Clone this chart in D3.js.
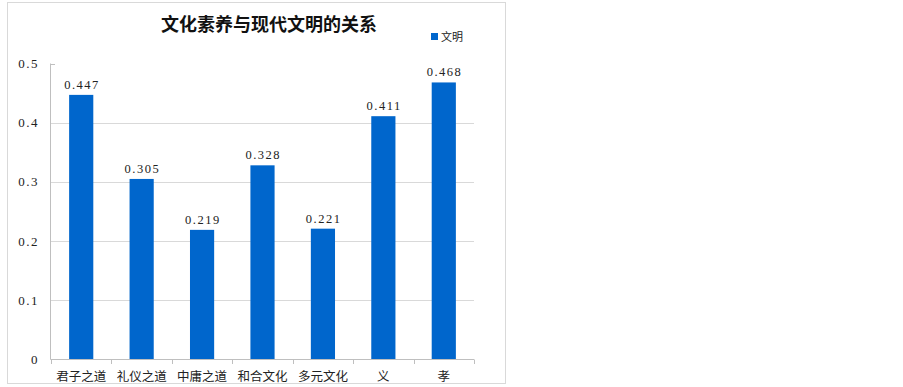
<!DOCTYPE html>
<html><head><meta charset="utf-8">
<script src="https://cdn.jsdelivr.net/npm/d3@7"></script>
<style>
body{margin:0;background:#fff;}
svg{display:block;}
</style></head>
<body>
<svg id="c" width="903" height="387"></svg>
<script>
const categories = ["君子之道","礼仪之道","中庸之道","和合文化","多元文化","义","孝"];
const values = [0.447,0.305,0.219,0.328,0.221,0.411,0.468];
const yTicks = [0,0.1,0.2,0.3,0.4,0.5];
const seriesName = "文明";
const title = "文化素养与现代文明的关系";

const svg = d3.select("#c");
const cjk = "'Noto Sans CJK SC','Noto Sans',sans-serif";
const num = "'Liberation Serif','DejaVu Serif',serif";
const barColor = "#0066cc";

svg.append("rect").attr("x",7.5).attr("y",2.5).attr("width",498).attr("height",381)
  .attr("fill","#fff").attr("stroke","#d9d9d9").attr("stroke-width",1);

const x = d3.scaleBand().domain(categories).range([51,474]).paddingInner(0.6).paddingOuter(0.3);
const y = d3.scaleLinear().domain([0,0.5]).range([359.5,63.5]);

// gridlines
svg.append("g").selectAll("line").data(yTicks.filter(t=>t>0&&t<0.5)).join("line")
  .attr("x1",51).attr("x2",474).attr("y1",d=>Math.round(y(d))+0.5).attr("y2",d=>Math.round(y(d))+0.5)
  .attr("stroke","#d9d9d9");
// y axis line
svg.append("line").attr("x1",50.5).attr("x2",50.5).attr("y1",y(0.5)).attr("y2",y(0))
  .attr("stroke","#bfbfbf");
svg.append("line").attr("x1",50.5).attr("x2",55).attr("y1",Math.round(y(0.5))+0.5).attr("y2",Math.round(y(0.5))+0.5)
  .attr("stroke","#bfbfbf");
// y tick labels
svg.append("g").selectAll("text").data(yTicks).join("text")
  .attr("x",39).attr("y",d=>y(d)).attr("dy","0.35em").attr("text-anchor","end")
  .attr("font-family",num).attr("font-size",13).attr("fill","#222").attr("letter-spacing","1.5px")
  .text(d=>d===0?"0":d3.format(".1f")(d));

// bars
svg.append("g").selectAll("rect").data(values).join("rect")
  .attr("x",(d,i)=>x(categories[i])).attr("width",x.bandwidth())
  .attr("y",d=>y(d)).attr("height",d=>y(0)-y(d)).attr("fill",barColor);

// x axis
svg.append("line").attr("x1",50.5).attr("x2",474).attr("y1",359.5).attr("y2",359.5).attr("stroke","#bfbfbf");
const step = (474-51)/categories.length;
svg.append("g").selectAll("line").data(d3.range(categories.length+1)).join("line")
  .attr("x1",d=>Math.round(51+d*step)+0.5).attr("x2",d=>Math.round(51+d*step)+0.5)
  .attr("y1",359.5).attr("y2",364).attr("stroke","#bfbfbf");
svg.append("g").selectAll("text").data(categories).join("text")
  .attr("x",d=>x(d)+x.bandwidth()/2).attr("y",377).attr("dy","0.35em").attr("text-anchor","middle")
  .attr("font-family",cjk).attr("font-size",12.5).attr("fill","#222").text(d=>d);

// data labels
svg.append("g").selectAll("text").data(values).join("text")
  .attr("x",(d,i)=>x(categories[i])+x.bandwidth()/2+0.75).attr("y",d=>y(d)-6)
  .attr("text-anchor","middle").attr("font-family",num).attr("font-size",12.5).attr("fill","#222")
  .attr("letter-spacing","1.5px")
  .text(d=>d3.format(".3f")(d));

// title
svg.append("text").attr("x",269).attr("y",25).attr("dy","0.35em").attr("text-anchor","middle")
  .attr("font-family",cjk).attr("font-weight","bold").attr("font-size",18).attr("fill","#111").text(title);

// legend
svg.append("rect").attr("x",431).attr("y",33).attr("width",7).attr("height",7).attr("fill",barColor);
svg.append("text").attr("x",441).attr("y",37).attr("dy","0.35em")
  .attr("font-family",cjk).attr("font-size",11).attr("fill","#222").text(seriesName);
</script>
</body></html>
